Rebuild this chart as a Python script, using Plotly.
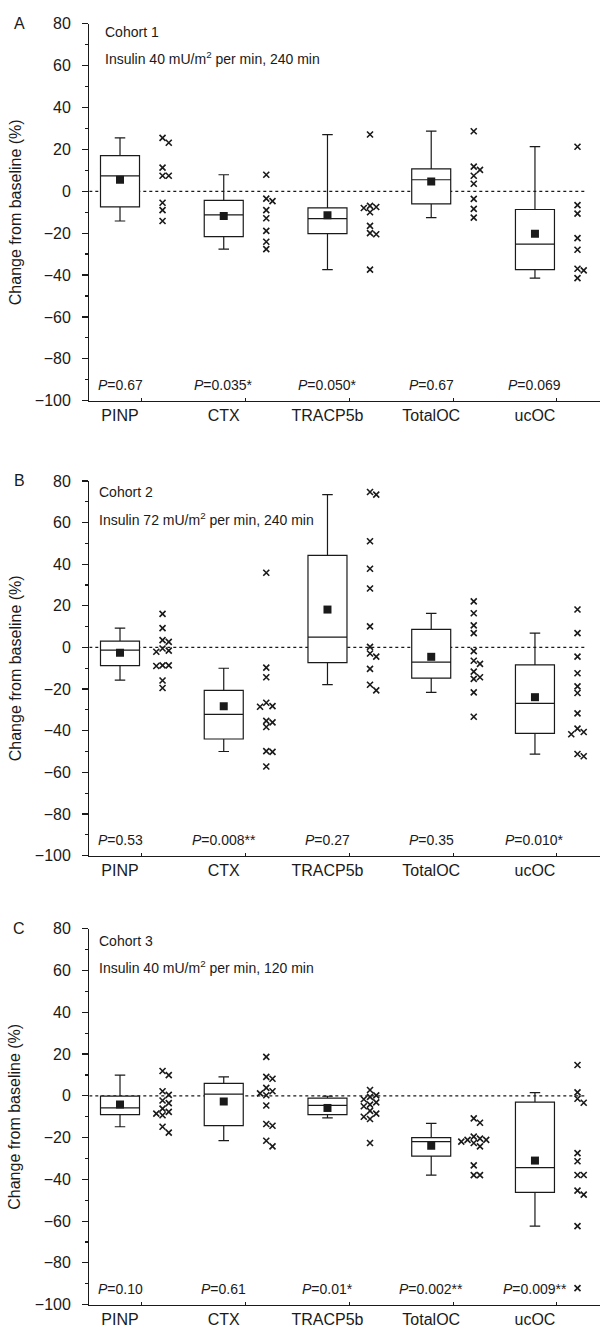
import plotly.graph_objects as go

categories = ["PINP", "CTX", "TRACP5b", "TotalOC", "ucOC"]

panel_letters = ["A", "B", "C"]
cohort_titles = ["Cohort 1", "Cohort 2", "Cohort 3"]
insulin_texts = [
    "Insulin 40 mU/m<sup>2</sup> per min, 240 min",
    "Insulin 72 mU/m<sup>2</sup> per min, 240 min",
    "Insulin 40 mU/m<sup>2</sup> per min, 120 min",
]

# ---- Cohort 1 (panel A) ----
a_q1 = [-7.4, -21.7, -20.2, -6.0, -37.4]
a_median = [7.4, -11.3, -13.1, 5.5, -25.2]
a_q3 = [17.0, -4.3, -7.9, 10.7, -8.7]
a_low = [-14.2, -27.6, -37.4, -12.6, -41.5]
a_high = [25.5, 7.9, 27.1, 28.7, 21.3]
a_mean = [5.5, -11.8, -11.5, 4.7, -20.3]
a_pinp = [25.5, 23.2, 11.3, 7.4, 7.4, -5.5, -9.0, -14.2]
a_ctx = [7.9, -3.5, -4.7, -9.0, -12.9, -18.9, -24.1, -27.6]
a_tracp = [27.1, -7.0, -7.5, -8.0, -10.0, -16.5, -20.0, -20.5, -37.4]
a_toc = [28.7, 11.8, 10.2, 7.4, 3.6, -3.6, -8.4, -12.6]
a_ucoc = [21.3, -6.6, -10.7, -22.4, -27.9, -37.0, -37.8, -41.5]
a_p = ["0.67", "0.035*", "0.050*", "0.67", "0.069"]

# ---- Cohort 2 (panel B) ----
b_q1 = [-8.7, -44.0, -7.3, -14.7, -41.3]
b_median = [-1.3, -32.2, 5.0, -7.1, -26.9]
b_q3 = [3.0, -20.6, 44.2, 8.7, -8.4]
b_low = [-15.7, -50.0, -17.9, -21.6, -51.3]
b_high = [9.3, -10.0, 73.4, 16.4, 6.9]
b_mean = [-2.6, -28.2, 18.2, -4.5, -23.9]
b_pinp = [16.1, 9.3, 3.5, 2.7, -0.5, -1.5, -2.1, -8.6, -8.9, -8.6, -15.9, -19.5]
b_ctx = [35.9, -9.7, -14.3, -26.6, -28.2, -28.5, -35.3, -36.0, -38.2, -49.8, -50.2, -57.2]
b_tracp = [74.7, 73.4, 51.0, 37.8, 28.3, 10.1, 0.3, -2.9, -4.4, -10.3, -17.9, -20.6]
b_toc = [22.1, 16.4, 10.6, 6.9, -1.8, -6.4, -7.9, -11.6, -14.3, -15.1, -21.6, -33.3]
b_ucoc = [18.2, 6.9, -4.4, -12.4, -18.7, -21.9, -31.7, -39.0, -40.6, -41.7, -51.2, -52.3]
b_p = ["0.53", "0.008**", "0.27", "0.35", "0.010*"]

# ---- Cohort 3 (panel C) ----
c_q1 = [-9.0, -14.3, -9.0, -28.9, -46.2]
c_median = [-5.8, 0.8, -4.6, -21.9, -34.4]
c_q3 = [-0.1, 6.0, -1.1, -20.0, -3.0]
c_low = [-14.8, -21.4, -10.5, -38.0, -62.4]
c_high = [9.9, 9.1, -0.2, -13.2, 1.5]
c_mean = [-4.2, -2.7, -5.8, -23.9, -31.0]
c_pinp = [11.9, 9.9, 2.2, 0.5, -2.2, -3.5, -6.1, -7.7, -8.5, -9.3, -14.8, -17.6]
c_ctx = [18.7, 9.1, 8.2, 3.8, 2.2, 1.2, 0.3, -4.6, -13.5, -14.3, -21.5, -24.2]
c_tracp = [2.8, 0.2, -0.5, -1.6, -3.1, -4.2, -5.0, -7.2, -8.5, -10.0, -11.1, -22.6]
c_toc = [-10.8, -12.9, -19.5, -20.5, -21.1, -21.1, -21.9, -22.6, -24.2, -33.3, -38.0, -38.0]
c_ucoc = [14.8, 1.7, -1.4, -3.3, -27.4, -31.3, -37.9, -37.9, -45.4, -47.3, -62.4, -92.1]
c_p = ["0.10", "0.61", "0.01*", "0.002**", "0.009**"]

y_ticks = [-100, -80, -60, -40, -20, 0, 20, 40, 60, 80]

panels = [
    dict(q1=a_q1, med=a_median, q3=a_q3, lo=a_low, hi=a_high, mean=a_mean,
         pts=[a_pinp, a_ctx, a_tracp, a_toc, a_ucoc], p=a_p),
    dict(q1=b_q1, med=b_median, q3=b_q3, lo=b_low, hi=b_high, mean=b_mean,
         pts=[b_pinp, b_ctx, b_tracp, b_toc, b_ucoc], p=b_p),
    dict(q1=c_q1, med=c_median, q3=c_q3, lo=c_low, hi=c_high, mean=c_mean,
         pts=[c_pinp, c_ctx, c_tracp, c_toc, c_ucoc], p=c_p),
]

# ---------- geometry (pixels in a 600 x 1338 page) ----------
W, H = 600, 1338
panel_px = [(16.0, 397.7), (479.0, 858.5), (932.7, 1313.3)]
cohort_px = [(24.3, 50.7, 103), (490.7, 517.3, 97), (945.0, 971.7, 97)]
x_left_px = 89.3
XR = [-0.296, 4.627]
POINT_OFFSET = 0.41
FONT = "Liberation Sans, Arial, Helvetica, sans-serif"
INK = "#1a1a1a"
PX_PER_X = (W - x_left_px) / (XR[1] - XR[0])
PX_PER_Y = 381.0 / 180.0


def dodge(values):
    """Greedy horizontal spread so that crosses with close values do not overlap."""
    order = sorted(range(len(values)), key=lambda k: -values[k])
    cands = [0.0, 0.06, -0.06, 0.12, -0.12]
    placed = []
    offs = [0.0] * len(values)
    for k in order:
        for c in cands:
            ok = True
            for (o, v) in placed:
                if abs(v - values[k]) * PX_PER_Y < 6 and abs(o - c) * PX_PER_X < 6:
                    ok = False
                    break
            if ok:
                offs[k] = c
                break
        placed.append((offs[k], values[k]))
    return offs


fig = go.Figure()
annotations = []
shapes = []

for pi, pan in enumerate(panels):
    sfx = "" if pi == 0 else str(pi + 1)
    xa, ya = "x" + sfx, "y" + sfx
    xs = list(range(len(categories)))

    fig.add_trace(go.Box(
        x=xs, q1=pan["q1"], median=pan["med"], q3=pan["q3"],
        lowerfence=pan["lo"], upperfence=pan["hi"],
        width=0.376, whiskerwidth=0.27,
        fillcolor="white", line=dict(color=INK, width=1.2),
        boxpoints=False, showlegend=False, hoverinfo="skip",
        xaxis=xa, yaxis=ya,
    ))
    fig.add_trace(go.Scatter(
        x=xs, y=pan["mean"], mode="markers",
        marker=dict(symbol="square", size=8, color=INK),
        showlegend=False, hoverinfo="skip", xaxis=xa, yaxis=ya,
    ))
    px_, py_ = [], []
    for ci, vals in enumerate(pan["pts"]):
        offs = dodge(vals)
        for v, o in zip(vals, offs):
            px_.append(ci + POINT_OFFSET + o)
            py_.append(v)
    fig.add_trace(go.Scatter(
        x=px_, y=py_, mode="markers",
        marker=dict(symbol="x-thin", size=6, line=dict(color=INK, width=1.6)),
        showlegend=False, hoverinfo="skip", xaxis=xa, yaxis=ya,
    ))

    top_px, bot_px = panel_px[pi]
    dom = [1 - bot_px / H, 1 - top_px / H]
    xaxis_cfg = dict(
        domain=[x_left_px / W, 1.0], range=XR, anchor=ya,
        tickmode="array", tickvals=xs, ticktext=categories,
        ticks="", showline=True, linecolor=INK, linewidth=1.2,
        showgrid=False, zeroline=False,
        tickfont=dict(family=FONT, size=16, color=INK),
        minor=dict(tickmode="array", tickvals=[i + 0.21 for i in xs],
                   ticks="inside", ticklen=3, tickcolor=INK, tickwidth=1),
    )
    yaxis_cfg = dict(
        domain=dom, range=[-100, 80], anchor=xa,
        tickmode="array", tickvals=y_ticks,
        ticks="outside", ticklen=6, tickwidth=1.2, tickcolor=INK,
        showline=True, linecolor=INK, linewidth=1.2,
        showgrid=False, zeroline=False,
        tickfont=dict(family=FONT, size=16, color=INK),
        ticklabelstandoff=8,
        minor=dict(tickmode="array", tickvals=[v + 10 for v in y_ticks[:-1]],
                   ticks="outside", ticklen=3, tickcolor=INK, tickwidth=1.2),
    )
    fig.layout["xaxis" + sfx] = xaxis_cfg
    fig.layout["yaxis" + sfx] = yaxis_cfg

    shapes.append(dict(type="line", xref=xa, yref=ya, x0=XR[0], x1=4.50, y0=0, y1=0,
                       line=dict(color=INK, width=1.2, dash="dot"), layer="below"))

    for ci, pv in enumerate(pan["p"]):
        annotations.append(dict(
            x=ci, y=-92.6, xref=xa, yref=ya, text="<i>P</i>=" + pv, showarrow=False,
            font=dict(family=FONT, size=14, color=INK), xanchor="center", yanchor="middle"))

    cy1, cy2, cx = cohort_px[pi]
    annotations.append(dict(
        x=cx / W, y=1 - cy1 / H, xref="paper", yref="paper", text=cohort_titles[pi],
        showarrow=False, xanchor="left", yanchor="middle",
        font=dict(family=FONT, size=14, color=INK)))
    annotations.append(dict(
        x=cx / W, y=1 - cy2 / H, xref="paper", yref="paper", text=insulin_texts[pi],
        showarrow=False, xanchor="left", yanchor="middle",
        font=dict(family=FONT, size=14, color=INK)))
    annotations.append(dict(
        x=19 / W, y=1 - top_px / H, xref="paper", yref="paper", text=panel_letters[pi],
        showarrow=False, xanchor="center", yanchor="middle",
        font=dict(family=FONT, size=16, color=INK)))
    annotations.append(dict(
        x=15 / W, y=(dom[0] + dom[1]) / 2, xref="paper", yref="paper",
        text="Change from baseline (%)", textangle=-90,
        showarrow=False, xanchor="center", yanchor="middle",
        font=dict(family=FONT, size=16, color=INK)))

fig.update_layout(
    width=W, height=H,
    margin=dict(l=0, r=0, t=0, b=0),
    paper_bgcolor="white", plot_bgcolor="white",
    boxmode="overlay",
    annotations=annotations, shapes=shapes,
    showlegend=False,
)

fig.write_html(
    "out.html",
    config={"displayModeBar": False, "staticPlot": True},
    post_script="document.body.style.margin='0';document.body.style.padding='0';",
)
